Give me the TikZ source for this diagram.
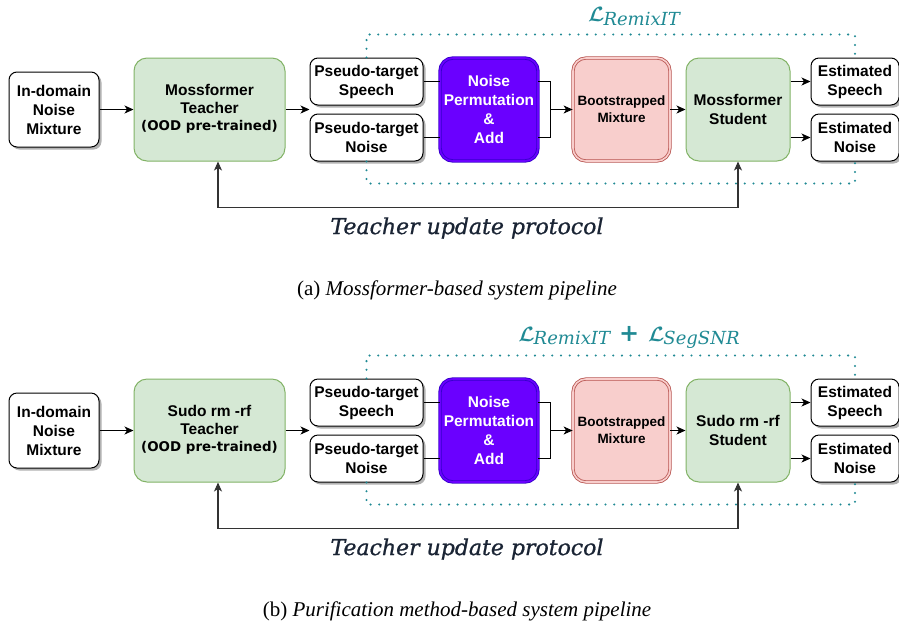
\documentclass[tikz,border=0pt]{standalone}
\usepackage{fontspec}
\usepackage{amsmath,bm}
\usetikzlibrary{arrows.meta,shadows,calc}

\newfontfamily\boxfont{Liberation Sans}
\newfontfamily\oodfont{DejaVu Sans}
\newfontfamily\capfont{Liberation Serif}
\newfontfamily\protofont{DejaVu Serif}
\newfontfamily\protoheavy[FakeBold=0.9]{DejaVu Serif}

\definecolor{greenfill}{HTML}{D5E8D4}
\definecolor{greenline}{HTML}{82B366}
\definecolor{pinkfill}{HTML}{F8CECC}
\definecolor{pinkline}{HTML}{B85450}
\definecolor{violetfill}{HTML}{6A00FF}
\definecolor{violetline}{HTML}{3700CC}
\definecolor{lossteal}{RGB}{32,138,148}
\definecolor{protoink}{HTML}{1A2434}

\tikzset{
  blk/.style={draw=black, line width=1pt, fill=white, align=center, inner sep=0pt,
    font={\boxfont\bfseries\fontsize{15.5}{19}\selectfont}},
  wbox/.style={blk, rounded corners=8pt,
    drop shadow={shadow xshift=2.5pt, shadow yshift=-2.5pt, fill=black!30, opacity=1}},
  modelbox/.style={blk, rounded corners=13pt, draw=greenline, fill=greenfill,
    minimum width=151pt, minimum height=103pt},
  permbox/.style={blk, rounded corners=13pt, draw=violetline, double=violetfill,
    double distance=1.6pt, line width=0.9pt, fill=violetfill, text=white,
    minimum width=98pt, minimum height=103pt},
  bootbox/.style={blk, rounded corners=13pt, draw=pinkline, double=pinkfill,
    double distance=1.6pt, line width=0.8pt, fill=pinkfill,
    minimum width=97pt, minimum height=103pt,
    font={\boxfont\bfseries\fontsize{13.5}{17}\selectfont}},
  arr/.style={line width=1pt, -{Stealth[length=9pt,width=8pt,inset=2.5pt]}},
  link/.style={line width=1pt},
  fback/.style={line width=1.1pt, draw=black!80,
    {Stealth[length=9pt,width=8pt,inset=2.5pt]}-{Stealth[length=9pt,width=8pt,inset=2.5pt]}},
  lossline/.style={draw=lossteal, line width=2.3pt, dash pattern=on 0pt off 8.7pt, line cap=round},
  losslabel/.style={text=lossteal, inner sep=0pt},
  proto/.style={text=protoink, inner sep=0pt,
    font={\protoheavy\itshape\fontsize{22}{24}\selectfont}},
  captext/.style={inner sep=0pt, font={\capfont\fontsize{21}{24}\selectfont}}
}

% loss symbol with an italic subscript
\newcommand\losssym[1]{{\fontsize{22}{22}\selectfont$\bm{\mathcal{L}}$}\kern-1pt\raisebox{-3.5pt}{\protofont\itshape\fontsize{18}{18}\selectfont #1}}

% one full pipeline: #1 prefix, #2 vertical offset, #3 teacher name,
% #4 student text, #5 loss label, #6 loss label x, #7 caption
\newcommand\drawpipeline[7]{%
\begin{scope}[shift={(0,#2)}]
  \node[wbox, minimum width=90pt, minimum height=75pt] (#1-in) at (54,109.5)
    {In-domain\\Noise\\Mixture};
  \node[modelbox] (#1-teacher) at (209.5,109.5)
    {\raisebox{-1.5pt}{\begin{tabular}{@{}c@{}}#3\\[-1.5pt]Teacher\\[-1.5pt]{\oodfont\fontsize{13.4}{18}\selectfont (OOD pre-trained)}\end{tabular}}};
  \node[wbox, minimum width=113pt, minimum height=47pt] (#1-ps) at (366.5,81.5)
    {Pseudo-target\\Speech};
  \node[wbox, minimum width=113pt, minimum height=47pt] (#1-pn) at (366.5,137.5)
    {Pseudo-target\\Noise};
  \node[permbox] (#1-perm) at (489,109.5) {Noise\\Permutation\\\&\\Add};
  \node[bootbox] (#1-boot) at (621.5,109.5) {Bootstrapped\\Mixture};
  \node[modelbox, minimum width=104pt] (#1-student) at (738,109.5) {#4};
  \node[wbox, minimum width=88pt, minimum height=47pt] (#1-es) at (855,81.5)
    {Estimated\\Speech};
  \node[wbox, minimum width=88pt, minimum height=47pt] (#1-en) at (855,137.5)
    {Estimated\\Noise};
  \coordinate (#1-merge) at ($(#1-perm.east)+(12,0)$);

  % loss region
  \draw[lossline] (#1-ps.north) -- ++(0,-23) -| (#1-es.north);
  \draw[lossline] (#1-pn.south) -- ++(0,22) -| (#1-en.south);
  \node[losslabel] (#1-loss) at (#6,16.5) {#5};

  % data flow
  \draw[arr] (#1-in.east) -- (#1-teacher.west);
  \draw[arr] (#1-teacher.east) -- (#1-teacher.east -| #1-ps.west);
  \draw[link] (#1-ps.east) -- (#1-ps.east -| #1-perm.west);
  \draw[link] (#1-pn.east) -- (#1-pn.east -| #1-perm.west);
  \draw[link] (#1-perm.east |- #1-ps.east) -| (#1-merge) |- (#1-perm.east |- #1-pn.east);
  \draw[arr] (#1-merge) -- (#1-boot.west);
  \draw[arr] (#1-boot.east) -- (#1-student.west);
  \draw[arr] (#1-student.east |- #1-es.west) -- (#1-es.west);
  \draw[arr] (#1-student.east |- #1-en.west) -- (#1-en.west);

  % teacher update
  \draw[fback] (#1-student.south) -- ++(0,46) -| ([xshift=8.5pt]#1-teacher.south);
  \node[proto] (#1-proto) at (467,228) {Teacher update protocol};
  \node[captext] (#1-cap) at (457,290) {#7};
\end{scope}}

\begin{document}
\begin{tikzpicture}[x=1pt,y=-1pt]
  \useasboundingbox (0,0) rectangle (899,630);
  \fill[white] (0,0) rectangle (899,630);

  \drawpipeline{a}{0}{Mossformer}{Mossformer\\Student}
    {\losssym{RemixIT}}{634}
    {(a) \itshape Mossformer-based system pipeline}
  \drawpipeline{b}{321}{Sudo rm -rf}{Sudo rm -rf\\Student}
    {\losssym{RemixIT}\hspace{9pt}{\protofont\bfseries\fontsize{24}{24}\selectfont +}\hspace{9pt}\losssym{SegSNR}}{629}
    {(b) \itshape Purification method-based system pipeline}
\end{tikzpicture}
\end{document}
